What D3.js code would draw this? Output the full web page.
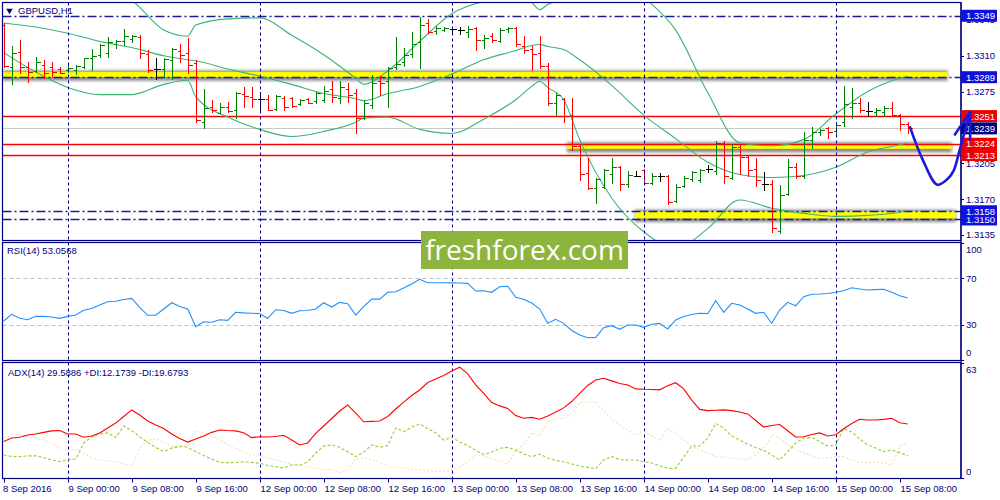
<!DOCTYPE html>
<html>
<head>
<meta charset="utf-8">
<script src="https://cdnjs.cloudflare.com/ajax/libs/d3/7.8.5/d3.min.js"></script>
<style>
  body { margin: 0; background: #fff; }
  text { font-family: "Liberation Sans", Arial, sans-serif; }
</style>
</head>
<body>
<svg id="chart" width="1000" height="500"></svg>
<script>
// ---- data (bar 0 = 8 Sep 16:00) ----
const opens = [1.3340,1.3299,1.3314,1.3299,1.3295,1.3301,1.3299,1.3297,1.3296,1.3296,
  1.3299,1.3308,1.3311,1.3313,1.3321,1.3324,1.3326,1.3328,1.3312,1.3297,
  1.3297,1.3306,1.3315,1.3313,1.3303,1.3245,1.3260,1.3254,1.3260,1.3257,
  1.3273,1.3270,1.3268,1.3268,1.3258,1.3269,1.3269,1.3263,1.3268,1.3266,
  1.3267,1.3277,1.3269,1.3277,1.3274,1.3249,1.3262,1.3285,1.3285,1.3299,
  1.3304,1.3312,1.3323,1.3342,1.3334,1.3335,1.3336,1.3335,1.3333,1.3337,
  1.3325,1.3329,1.3324,1.3336,1.3337,1.3319,1.3317,1.3313,1.3300,1.3264,
  1.3268,1.3252,1.3222,1.3195,1.3181,1.3182,1.3194,1.3201,1.3185,1.3192,
  1.3198,1.3186,1.3192,1.3192,1.3168,1.3183,1.3190,1.3189,1.3199,1.3197,
  1.3225,1.3191,1.3221,1.3211,1.3199,1.3185,1.3185,1.3139,1.3175,1.3201,
  1.3192,1.3228,1.3235,1.3239,1.3236,1.3245,1.3260,1.3264,1.3256,1.3255,
  1.3255,1.3259,1.3252,1.3243];
const highs = [1.3342,1.3319,1.3325,1.3304,1.3309,1.3306,1.3304,1.3299,1.3303,1.3301,
  1.3308,1.3317,1.3321,1.3328,1.3325,1.3336,1.3330,1.3330,1.3316,1.3308,
  1.3308,1.3318,1.3321,1.3327,1.3306,1.3277,1.3267,1.3264,1.3265,1.3275,
  1.3279,1.3279,1.3275,1.3272,1.3272,1.3271,1.3270,1.3268,1.3269,1.3275,
  1.3280,1.3285,1.3285,1.3283,1.3277,1.3267,1.3291,1.3290,1.3299,1.3328,
  1.3318,1.3333,1.3348,1.3346,1.3339,1.3338,1.3338,1.3338,1.3339,1.3338,
  1.3330,1.3332,1.3337,1.3338,1.3338,1.3329,1.3319,1.3329,1.3303,1.3274,
  1.3269,1.3269,1.3223,1.3210,1.3191,1.3199,1.3210,1.3202,1.3197,1.3197,
  1.3199,1.3195,1.3195,1.3193,1.3185,1.3192,1.3197,1.3199,1.3203,1.3227,
  1.3227,1.3224,1.3223,1.3213,1.3210,1.3196,1.3189,1.3184,1.3209,1.3205,
  1.3235,1.3240,1.3238,1.3240,1.3245,1.3280,1.3278,1.3269,1.3265,1.3259,
  1.3261,1.3265,1.3253,1.3245];
const lows = [1.3299,1.3282,1.3293,1.3284,1.3294,1.3288,1.3290,1.3293,1.3294,1.3292,
  1.3298,1.3296,1.3309,1.3309,1.3318,1.3320,1.3323,1.3308,1.3294,1.3287,
  1.3289,1.3287,1.3304,1.3293,1.3245,1.3239,1.3255,1.3254,1.3255,1.3249,
  1.3260,1.3260,1.3255,1.3257,1.3257,1.3257,1.3260,1.3262,1.3264,1.3264,
  1.3265,1.3265,1.3264,1.3265,1.3234,1.3248,1.3259,1.3272,1.3260,1.3297,
  1.3300,1.3309,1.3298,1.3332,1.3331,1.3334,1.3333,1.3331,1.3328,1.3316,
  1.3318,1.3323,1.3323,1.3333,1.3319,1.3313,1.3296,1.3298,1.3262,1.3252,
  1.3245,1.3218,1.3189,1.3180,1.3166,1.3181,1.3186,1.3179,1.3182,1.3192,
  1.3185,1.3185,1.3188,1.3165,1.3167,1.3182,1.3188,1.3187,1.3196,1.3194,
  1.3186,1.3190,1.3194,1.3192,1.3183,1.3179,1.3138,1.3137,1.3174,1.3191,
  1.3191,1.3220,1.3233,1.3230,1.3233,1.3241,1.3249,1.3255,1.3251,1.3251,
  1.3251,1.3251,1.3237,1.3234];
const closes = [1.3300,1.3313,1.3299,1.3294,1.3304,1.3293,1.3294,1.3293,1.3298,1.3300,
  1.3308,1.3310,1.3320,1.3323,1.3324,1.3329,1.3329,1.3313,1.3296,1.3297,
  1.3307,1.3317,1.3311,1.3301,1.3247,1.3259,1.3257,1.3260,1.3256,1.3274,
  1.3271,1.3268,1.3268,1.3257,1.3271,1.3260,1.3261,1.3267,1.3264,1.3274,
  1.3276,1.3270,1.3279,1.3272,1.3249,1.3264,1.3283,1.3283,1.3298,1.3302,
  1.3311,1.3321,1.3340,1.3333,1.3337,1.3337,1.3336,1.3335,1.3336,1.3325,
  1.3327,1.3325,1.3335,1.3337,1.3321,1.3316,1.3312,1.3300,1.3264,1.3272,
  1.3251,1.3222,1.3194,1.3181,1.3190,1.3198,1.3201,1.3185,1.3193,1.3192,
  1.3186,1.3192,1.3192,1.3167,1.3182,1.3191,1.3196,1.3198,1.3199,1.3225,
  1.3192,1.3221,1.3211,1.3198,1.3189,1.3185,1.3142,1.3174,1.3201,1.3192,
  1.3228,1.3235,1.3237,1.3235,1.3242,1.3263,1.3264,1.3257,1.3256,1.3257,
  1.3259,1.3252,1.3243,1.3239];

// Bollinger bands, read at these bar numbers
const bbBars = [0,4,8,12,16,20,23,24,28,32,36,40,44,45,48,52,56,60,64,66,67,68,70,72,76,80,84,88,92,96,100,104,108,112,113];
const bbUpper = [1.3372,1.3382,1.3386,1.3375,1.3364,1.3335,1.3329,1.3340,1.3346,1.3347,1.3330,1.3311,1.3288,1.3282,1.3295,1.3324,1.3351,1.3363,1.3367,1.3362,1.3355,1.3360,1.3367,1.3384,1.3390,1.3367,1.3335,1.3274,1.3225,1.3222,1.3228,1.3253,1.3275,1.3288,1.3290];
const bbMiddle = [1.3342,1.3338,1.3332,1.3324,1.3318,1.3310,1.3306,1.3305,1.3297,1.3290,1.3282,1.3273,1.3268,1.3266,1.3273,1.3280,1.3292,1.3306,1.3315,1.3320,1.3321,1.3319,1.3316,1.3306,1.3281,1.3252,1.3229,1.3206,1.3194,1.3191,1.3193,1.3201,1.3216,1.3223,1.3225];
const bbLower = [1.3313,1.3294,1.3279,1.3272,1.3272,1.3282,1.3286,1.3270,1.3250,1.3238,1.3231,1.3236,1.3245,1.3249,1.3250,1.3238,1.3234,1.3248,1.3267,1.3280,1.3285,1.3279,1.3267,1.3228,1.3171,1.3138,1.3122,1.3141,1.3169,1.3161,1.3156,1.3153,1.3154,1.3157,1.3159];

const rsiValues = [33.4,39.1,35.7,34.5,37.4,37.4,36.8,35.7,37.4,38.5,
  42.6,44.1,47.1,49.9,50.4,51.8,52.8,45.0,38.3,38.3,
  43.7,49.1,45.8,43.7,28.5,32.8,32.3,34.5,34.0,40.9,
  40.4,40.1,39.7,35.7,43.1,42.4,40.0,42.2,42.4,43.7,
  49.1,45.4,49.4,48.2,38.5,45.7,52.2,52.2,58.0,58.5,
  61.7,65.1,69.1,66.2,66.2,66.2,66.1,66.0,65.7,59.1,
  59.4,58.0,62.8,63.2,53.7,52.0,48.8,43.7,31.4,34.9,
  31.4,25.3,21.4,19.1,19.4,27.7,29.4,26.3,30.0,30.0,
  28.0,30.6,31.4,26.6,34.3,37.3,39.0,40.0,39.7,50.8,
  40.9,48.6,47.1,43.7,40.0,40.9,31.4,42.8,49.4,46.5,
  54.2,56.3,56.5,57.0,58.0,59.4,61.9,60.8,60.0,60.3,
  60.6,58.0,55.1,53.0568];

const adxValues = [20.0,21.9,22.3,23.6,24.1,25.0,25.8,26.0,24.1,24.1,
  22.3,23.0,24.7,27.4,30.1,33.7,37.3,34.5,31.2,29.0,
  27.1,24.1,21.6,19.7,21.4,23.0,25.0,26.3,26.0,25.8,
  24.8,22.1,22.6,22.5,22.7,23.4,20.8,18.1,19.2,24.4,
  28.5,32.6,36.7,40.0,35.6,30.8,31.0,31.2,33.7,37.8,
  41.6,45.2,48.2,52.3,54.2,56.2,58.6,60.7,57.0,51.0,
  46.3,41.3,39.5,38.1,34.2,32.7,33.2,32.2,34.0,36.2,
  38.4,41.9,46.3,50.7,53.7,54.6,53.2,51.8,51.0,48.8,
  48.6,48.5,48.3,50.6,52.2,48.8,42.7,37.6,36.9,37.1,
  37.3,36.9,36.2,35.1,31.5,27.9,28.8,29.3,25.9,22.5,
  22.6,23.8,24.7,23.0,23.7,27.0,29.9,32.2,31.8,31.8,
  32.1,32.7,30.3,29.5886];
const plusDI = [12.6,11.8,11.8,12.1,12.1,11.2,9.9,9.0,10.1,10.4,
  19.2,22.5,24.1,24.7,22.2,28.5,26.0,22.6,19.5,16.7,
  14.5,16.4,17.5,16.8,14.5,12.3,10.4,8.5,8.4,8.5,
  8.9,8.5,8.1,6.8,6.2,5.5,7.1,7.1,8.8,13.7,
  17.5,18.1,16.8,14.2,11.7,14.2,18.1,16.8,17.8,27.4,
  25.4,27.9,29.6,27.0,24.7,20.8,22.3,19.7,17.8,15.1,
  12.9,14.2,16.3,16.8,15.3,13.2,11.7,13.0,11.0,9.6,
  8.9,7.7,6.6,5.8,5.1,9.9,11.8,10.1,9.9,9.9,
  8.9,8.2,6.8,5.3,5.3,11.5,17.5,17.5,21.9,29.9,
  27.4,23.0,20.8,18.6,16.7,15.1,12.6,9.9,14.4,19.2,
  21.8,22.2,20.0,17.5,18.1,27.2,25.2,21.4,18.1,16.4,
  14.4,15.3,13.9,12.1739];
const minusDI = [21.8,23.8,23.6,22.7,21.9,20.8,19.2,16.7,15.1,15.9,
  13.4,11.2,9.9,9.6,8.8,7.7,6.3,16.4,20.5,21.6,
  19.7,17.5,16.7,17.8,25.9,24.5,23.0,21.1,18.1,16.2,
  14.5,12.6,12.6,11.0,9.9,8.8,7.4,6.8,6.0,5.2,
  4.7,4.4,3.0,4.5,10.5,11.0,10.1,8.5,6.6,5.8,
  5.3,4.7,4.4,3.9,3.5,3.5,4.7,6.0,8.8,12.6,
  12.1,10.4,9.3,7.7,14.8,18.6,24.7,23.0,31.2,32.7,
  32.7,35.1,41.1,41.8,41.8,36.7,32.3,29.0,26.3,23.6,
  25.4,23.0,20.5,26.8,24.1,20.8,17.5,15.3,13.5,11.7,
  11.5,11.0,10.4,10.0,12.6,16.2,23.6,21.9,18.1,15.6,
  13.9,12.2,10.7,11.0,11.7,11.7,10.0,8.5,8.4,8.8,
  8.2,7.1,17.5,19.6793];

const dateLabels = ["8 Sep 2016","9 Sep 00:00","9 Sep 08:00","9 Sep 16:00","12 Sep 00:00",
  "12 Sep 08:00","12 Sep 16:00","13 Sep 00:00","13 Sep 08:00","13 Sep 16:00",
  "14 Sep 00:00","14 Sep 08:00","14 Sep 16:00","15 Sep 00:00","15 Sep 08:00"];
const dateLabelBars = [0,8,16,24,32,40,48,56,64,72,80,88,96,104,112];
const dayStartBars = [8,32,56,80,104];
const priceTicks = [1.3345,1.3310,1.3275,1.3240,1.3205,1.3170,1.3135];

const blueLevels = [1.3349,1.3289,1.3150,1.3158];
const redLevels = [1.3251,1.3213,1.3224];
const bidPrice = 1.3239;
// yellow zones: top, bottom price, first / last bar
const zoneTop = [1.3294,1.3224,1.3158];
const zoneBottom = [1.3289,1.3219,1.3151];
const zoneFrom = [-0.1,70.4,78.9];
const zoneTo = [118,118.5,119];
// hand drawn forecast arrow
const arrowBars = [113.3,114.9,116.7,117.9,118.7,119.5,120.8];
const arrowPrices = [1.3240,1.3208,1.3184,1.3189,1.3197,1.3218,1.3255];
const arrowHeadBars = [118.9,120.8,120.8];
const arrowHeadPrices = [1.3233,1.3255,1.3228];

// ---- layout ----
const svg = d3.select("#chart");
const left = 2.5, right = 961;
const mainTop = 2.5, mainBottom = 240.5;
const rsiTop = 242.5, rsiBottom = 360.5;
const adxTop = 362.5, adxBottom = 478.5;
const navy = "#000080";
const last = a => a[a.length - 1];

const x = d3.scaleLinear().domain([0, 113]).range([3.7, 907.7]);
const y = d3.scaleLinear().domain([1.3170, 1.3310]).range([199, 55.7]);
const yRsi = d3.scaleLinear().domain([0, 100]).range([360, 243.3]);
const yAdx = d3.scaleLinear().domain([0, 63]).range([478, 363]);

const defs = svg.append("defs");
[["clipMain", mainTop, mainBottom], ["clipRsi", rsiTop, rsiBottom], ["clipAdx", adxTop, adxBottom]]
  .forEach(([id, t, b]) => {
    defs.append("clipPath").attr("id", id).append("rect")
      .attr("x", left).attr("y", t).attr("width", right - left).attr("height", b - t);
  });
defs.append("filter").attr("id", "blur").attr("x", "-5%").attr("y", "-100%")
  .attr("width", "110%").attr("height", "300%")
  .append("feGaussianBlur").attr("stdDeviation", 1.6);

const px = v => Math.round(v) + 0.5;

// ---- main panel ----
const main = svg.append("g").attr("clip-path", "url(#clipMain)");

zoneTop.forEach((top, k) => {
  const x0 = x(zoneFrom[k]), x1 = x(zoneTo[k]);
  main.append("rect").attr("x", x0).attr("width", x1 - x0)
    .attr("y", y(top) - 1.5).attr("height", y(zoneBottom[k]) - y(top) + 5)
    .attr("fill", "#8a8a8a").attr("filter", "url(#blur)");
  main.append("rect").attr("x", x0).attr("width", x1 - x0)
    .attr("y", y(top)).attr("height", y(zoneBottom[k]) - y(top))
    .attr("fill", "#ffff00");
});

// day separators
const grid = svg.append("g");
dayStartBars.forEach(b => {
  grid.append("line").attr("x1", px(x(b))).attr("x2", px(x(b)))
    .attr("y1", mainTop).attr("y2", adxBottom)
    .attr("stroke", navy).attr("stroke-width", 1).attr("stroke-dasharray", "3,3");
});

main.append("line").attr("x1", left).attr("x2", right)
  .attr("y1", px(y(bidPrice))).attr("y2", px(y(bidPrice)))
  .attr("stroke", "#c8c8c8").attr("stroke-width", 1);

redLevels.forEach(p => {
  main.append("line").attr("x1", left).attr("x2", right)
    .attr("y1", px(y(p))).attr("y2", px(y(p)))
    .attr("stroke", "#ff0000").attr("stroke-width", 1.3);
});
blueLevels.forEach(p => {
  main.append("line").attr("x1", left).attr("x2", right)
    .attr("y1", px(y(p))).attr("y2", px(y(p)))
    .attr("stroke", "#1a1a9a").attr("stroke-width", 1.3).attr("stroke-dasharray", "9,3,2,3");
});

const bbLine = d3.line().x((d, k) => x(bbBars[k])).y(d => y(d)).curve(d3.curveMonotoneX);
[bbUpper, bbMiddle, bbLower].forEach(band => {
  main.append("path").attr("d", bbLine(band)).attr("fill", "none")
    .attr("stroke", "#3cb371").attr("stroke-width", 1.1);
});

const barColor = i => closes[i] > opens[i] ? "#008000" : (closes[i] < opens[i] ? "#ff0000" : "#000000");
const barG = main.append("g").attr("shape-rendering", "crispEdges");
d3.range(opens.length).forEach(i => {
  const cx = px(x(i)), col = barColor(i);
  barG.append("line").attr("x1", cx).attr("x2", cx)
    .attr("y1", Math.round(y(highs[i]))).attr("y2", Math.round(y(lows[i])) + 1)
    .attr("stroke", col).attr("stroke-width", 1);
  barG.append("line").attr("x1", cx - 3).attr("x2", cx)
    .attr("y1", px(y(opens[i]))).attr("y2", px(y(opens[i])))
    .attr("stroke", col).attr("stroke-width", 1);
  barG.append("line").attr("x1", cx).attr("x2", cx + 4)
    .attr("y1", px(y(closes[i]))).attr("y2", px(y(closes[i])))
    .attr("stroke", col).attr("stroke-width", 1);
});

// title
svg.append("path").attr("d", d3.symbol().type(d3.symbolTriangle).size(18)())
  .attr("transform", "translate(9.5,10.5) rotate(180)").attr("fill", navy);
svg.append("text").attr("x", 18).attr("y", 14).attr("font-size", "9.5px")
  .attr("fill", navy).text("GBPUSD,H1");

// ---- RSI panel ----
const rsiG = svg.append("g").attr("clip-path", "url(#clipRsi)");
[70, 30].forEach(v => {
  rsiG.append("line").attr("x1", left).attr("x2", right)
    .attr("y1", px(yRsi(v))).attr("y2", px(yRsi(v)))
    .attr("stroke", "#c0c0c0").attr("stroke-dasharray", "4,3");
});
rsiG.append("path")
  .attr("d", d3.line().x((d, i) => x(i)).y(d => yRsi(d))(rsiValues))
  .attr("fill", "none").attr("stroke", "#1e90ff").attr("stroke-width", 1.1);
svg.append("text").attr("x", 7).attr("y", 254).attr("font-size", "9.5px")
  .attr("fill", navy).text("RSI(14) " + last(rsiValues).toFixed(4));

// ---- ADX panel ----
const adxG = svg.append("g").attr("clip-path", "url(#clipAdx)");
const adxLine = d3.line().x((d, i) => x(i)).y(d => yAdx(d));
adxG.append("path").attr("d", adxLine(minusDI)).attr("fill", "none")
  .attr("stroke", "#f5deb3").attr("stroke-width", 1.1).attr("stroke-dasharray", "2,2");
adxG.append("path").attr("d", adxLine(plusDI)).attr("fill", "none")
  .attr("stroke", "#9acd32").attr("stroke-width", 1.1).attr("stroke-dasharray", "3,2");
adxG.append("path").attr("d", adxLine(adxValues)).attr("fill", "none")
  .attr("stroke", "#ff0000").attr("stroke-width", 1.1);
svg.append("text").attr("x", 8).attr("y", 376).attr("font-size", "9.5px")
  .attr("fill", navy)
  .text("ADX(14) " + last(adxValues).toFixed(4) + " +DI:" + last(plusDI).toFixed(4) + " -DI:" + last(minusDI).toFixed(4));

// ---- frames ----
[[mainTop, mainBottom], [rsiTop, rsiBottom], [adxTop, adxBottom]].forEach(([t, b]) => {
  svg.append("rect").attr("x", left).attr("y", t).attr("width", right - left).attr("height", b - t)
    .attr("fill", "none").attr("stroke", navy).attr("stroke-width", 1.2);
});

// ---- right axis ----
const axisG = svg.append("g");
axisG.append("line").attr("x1", right).attr("x2", right).attr("y1", mainTop).attr("y2", adxBottom)
  .attr("stroke", navy).attr("stroke-width", 1.2);
priceTicks.forEach(p => {
  axisG.append("line").attr("x1", right).attr("x2", right + 3).attr("y1", px(y(p))).attr("y2", px(y(p)))
    .attr("stroke", navy);
  axisG.append("text").attr("x", 966).attr("y", y(p) + 3.5).attr("font-size", "9.5px")
    .attr("fill", navy).text(p.toFixed(4));
});
[100, 70, 30, 0].forEach(v => {
  const ty = Math.min(Math.max(yRsi(v), rsiTop + 7), rsiBottom - 8);
  axisG.append("line").attr("x1", right).attr("x2", right + 3).attr("y1", px(yRsi(v))).attr("y2", px(yRsi(v)))
    .attr("stroke", navy);
  axisG.append("text").attr("x", 966).attr("y", ty + 3.5).attr("font-size", "9.5px")
    .attr("fill", navy).text(v);
});
[63, 0].forEach(v => {
  const ty = Math.min(Math.max(yAdx(v), adxTop + 7), adxBottom - 7);
  axisG.append("line").attr("x1", right).attr("x2", right + 3).attr("y1", px(yAdx(v))).attr("y2", px(yAdx(v)))
    .attr("stroke", navy);
  axisG.append("text").attr("x", 966).attr("y", ty + 3.5).attr("font-size", "9.5px")
    .attr("fill", navy).text(v);
});

// price boxes for the drawn levels (blue lines, red lines, bid)
const boxG = axisG.append("g");
function priceBox(p, col) {
  boxG.append("rect").attr("x", right).attr("y", y(p) - 6).attr("width", 36).attr("height", 12)
    .attr("fill", col);
  boxG.append("text").attr("x", 966).attr("y", y(p) + 3.6).attr("font-size", "9.5px")
    .attr("fill", "#ffffff").text(p.toFixed(4));
}
blueLevels.forEach(p => priceBox(p, "#0f0fe0"));
redLevels.forEach(p => priceBox(p, "#f00000"));
priceBox(bidPrice, "#000080");

// ---- time axis ----
dateLabelBars.forEach((b, k) => {
  const tx = px(x(b));
  svg.append("line").attr("x1", tx).attr("x2", tx).attr("y1", adxBottom).attr("y2", adxBottom + 4)
    .attr("stroke", navy);
  svg.append("text").attr("x", k === 0 ? 3 : tx).attr("y", 492).attr("font-size", "9.5px")
    .attr("fill", navy).text(dateLabels[k]);
});

// ---- forecast arrow ----
const arrowLine = d3.line().x(d => x(d[0])).y(d => y(d[1])).curve(d3.curveCatmullRom);
svg.append("path").attr("d", arrowLine(arrowBars.map((b, k) => [b, arrowPrices[k]])))
  .attr("fill", "none").attr("stroke", "#1a1ad8").attr("stroke-width", 2.6)
  .attr("stroke-linecap", "round").attr("stroke-linejoin", "round");
svg.append("path").attr("d", d3.line().x(d => x(d[0])).y(d => y(d[1]))(arrowHeadBars.map((b, k) => [b, arrowHeadPrices[k]])))
  .attr("fill", "none").attr("stroke", "#1a1ad8").attr("stroke-width", 2.6)
  .attr("stroke-linecap", "round").attr("stroke-linejoin", "round");

// ---- watermark ----
svg.append("rect").attr("x", 421).attr("y", 231).attr("width", 207).attr("height", 38)
  .attr("fill", "#8db53e");
svg.append("text").attr("x", 524.5).attr("y", 260).attr("text-anchor", "middle")
  .attr("font-size", "28px").style("font-family", "'Open Sans', sans-serif")
  .attr("fill", "#ffffff").text("freshforex.com");
</script>
</body>
</html>
